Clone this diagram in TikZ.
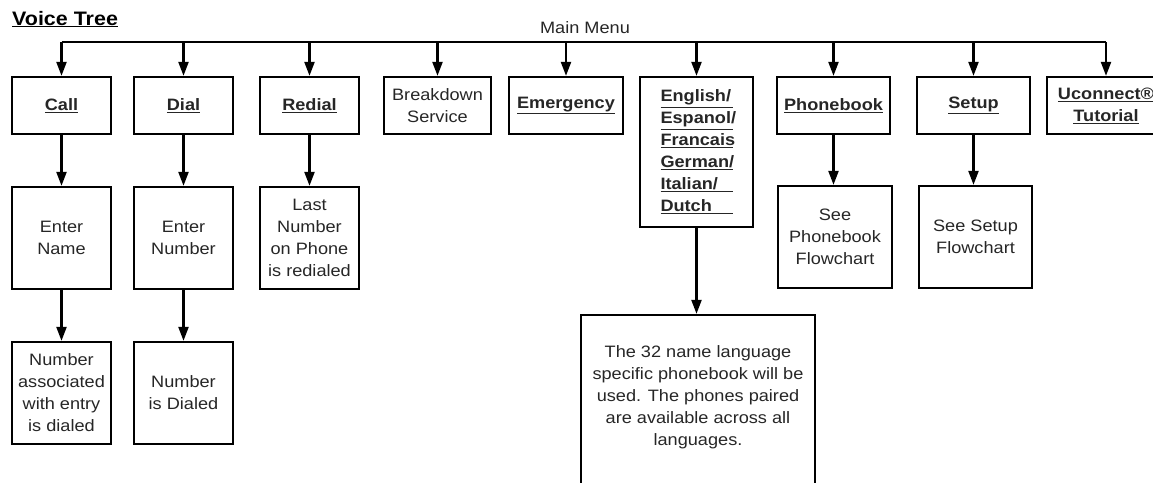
\documentclass[tikz,border=0pt]{standalone}
\usepackage{fontspec}
\setmainfont{Liberation Sans}[FakeStretch=1.1]
\usetikzlibrary{arrows.meta}
\newcommand\uln[1]{\underline{#1}}
\newcommand\ulw[1]{\underline{\makebox[72pt][l]{#1}}}
\begin{document}
\begin{tikzpicture}[x=1pt,y=-1pt,
  box/.style={draw, line width=2.3pt, inner sep=0pt, align=center,
    font=\fontsize{16.5}{22}\selectfont, text=black!85},
  bl/.style={font=\bfseries\fontsize{16.5}{22}\selectfont},
  arr/.style={line width=2.2pt, -{Triangle[length=14pt,width=10pt]}},
  bus/.style={line width=2.2pt}]
\useasboundingbox (0,0) rectangle (1153,482);
% title and main menu
\node[anchor=base west, inner sep=0pt, font=\bfseries\fontsize{19.5}{22}\selectfont] (title) at (12,25) {\uln{Voice Tree}};
\node[anchor=base, inner sep=0pt, font=\fontsize{16.5}{22}\selectfont, text=black!85] (menu) at (585,33) {Main Menu};
% top row
\node[box, bl, minimum width=99pt, minimum height=57pt] (call) at (61.5,105.5) {\uln{Call}};
\node[box, bl, minimum width=99pt, minimum height=57pt] (dial) at (183.5,105.5) {\uln{Dial}};
\node[box, bl, minimum width=99pt, minimum height=57pt] (redial) at (309.5,105.5) {\uln{Redial}};
\node[box, minimum width=107pt, minimum height=57pt] (brk) at (437.5,105.5) {Breakdown\\Service};
\node[box, bl, minimum width=114pt, minimum height=57pt] (emg) at (566,105.5) {\uln{Emergency}};
\node[box, bl, minimum width=113pt, minimum height=150pt] (eng) at (696.5,152) {\ulw{English/}\\\ulw{Espanol/}\\\ulw{Francais}\\\ulw{German/}\\\ulw{Italian/}\\\ulw{Dutch}};
\node[box, bl, minimum width=113pt, minimum height=57pt] (pb) at (833.5,105.5) {\uln{Phonebook}};
\node[box, bl, minimum width=113pt, minimum height=57pt] (setup) at (973.5,105.5) {\uln{Setup}};
\node[box, bl, minimum width=118pt, minimum height=57pt] (ucon) at (1106,105.5) {\uln{Uconnect®}\\\uln{Tutorial}};
% second row
\node[box, minimum width=99pt, minimum height=102pt] (ename) at (61.5,238) {Enter\\Name};
\node[box, minimum width=99pt, minimum height=102pt] (enum) at (183.5,238) {Enter\\Number};
\node[box, minimum width=99pt, minimum height=102pt] (last) at (309.5,238) {Last\\Number\\on Phone\\is redialed};
\node[box, minimum width=114pt, minimum height=102pt] (seepb) at (835,237) {See\\Phonebook\\Flowchart};
\node[box, minimum width=113pt, minimum height=102pt] (seesu) at (975.5,237) {See Setup\\Flowchart};
% third row
\node[box, minimum width=99pt, minimum height=102pt] (assoc) at (61.5,393) {Number\\associated\\with entry\\is dialed};
\node[box, minimum width=99pt, minimum height=102pt] (dialed) at (183.5,393) {Number\\is Dialed};
\node[box, minimum width=234pt, minimum height=180pt] (lang) at (698,405) {};
\node[align=center, inner sep=0pt, font=\fontsize{16.5}{22}\selectfont, text=black!85] (langtxt) at (698,397) {The 32 name language\\specific phonebook will be\\used. The phones paired\\are available across all\\languages.};
% bus
\coordinate (busy) at (0,42);
\draw[bus] (call.north |- busy) -- (ucon.north |- busy);
\foreach \n in {call,dial,redial,brk,emg,eng,pb,setup,ucon}
  \draw[arr] (\n.north |- busy) -- (\n.north);
% vertical connectors
\draw[arr] (call) -- (ename);
\draw[arr] (ename) -- (assoc);
\draw[arr] (dial) -- (enum);
\draw[arr] (enum) -- (dialed);
\draw[arr] (redial) -- (last);
\draw[arr] (eng.south) -- (eng.south |- lang.north);
\draw[arr] (pb.south) -- (pb.south |- seepb.north);
\draw[arr] (setup.south) -- (setup.south |- seesu.north);
\end{tikzpicture}
\end{document}
